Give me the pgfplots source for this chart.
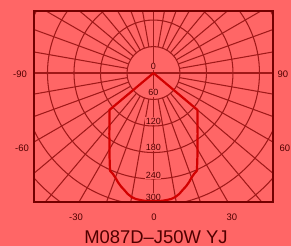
\documentclass[border=0pt]{standalone}
\usepackage{pgfplots}
\pgfplotsset{compat=1.18}
\usepackage{pgfplotstable}
\usepackage{fontspec}
\setmainfont{Liberation Sans}
\definecolor{bg}{RGB}{255,102,102}
\definecolor{gridc}{RGB}{160,25,25}
\definecolor{framec}{RGB}{115,0,0}
\definecolor{curvec}{RGB}{210,0,0}
\definecolor{txt}{RGB}{80,0,0}

\pgfplotstableread{
a r
-55 0
-50 130
-45 141
-40 155
-36 170
-32 188
-28 212
-24 242
-22 246
-20 252
-18 260
-16 267
-14 273
-12 280
-10 285
-8 288
-6 289
-4 290
-2 290
0 290
2 290
4 290
6 289
8 288
10 285
12 280
14 273
16 267
18 260
20 252
22 246
24 242
28 212
32 188
36 170
40 155
45 141
50 130
55 0
}\curvetable

\begin{document}
\begin{tikzpicture}[x=1bp,y=1bp]
\fill[bg] (0,0) rectangle (291,246);
\useasboundingbox (0,0) rectangle (291,246);
\begin{axis}[
  at={(34bp,44bp)}, anchor=south west,
  x=0.4417bp, y=0.4417bp,
  xmin=-270.5, xmax=270.5, ymin=-292, ymax=140.4,
  axis line style={draw=framec, line width=2.8bp},
  xtick=\empty, ytick=\empty,
  clip=true, axis on top,
]
\pgfplotsinvokeforeach{1,...,8}{
  \draw[gridc, line width=1.05bp] (0,0) circle[radius=#1*26.5bp];
}
\pgfplotsinvokeforeach{0,10,...,350}{
  \draw[gridc, line width=1.05bp] (0,0) ++(#1:26.5bp) -- ++(#1:260bp);
}
\draw[gridc, line width=1.05bp] (-300,0) -- (300,0);
\draw[gridc, line width=1.05bp] (0,-300) -- (0,200);
\node[fill=bg, inner sep=0.5bp, text=txt, font=\fontsize{9}{10}\selectfont] at (0,15) {0};
\node[fill=bg, inner sep=0.5bp, text=txt, font=\fontsize{9}{10}\selectfont] at (0,-45) {60};
\node[fill=bg, inner sep=0.5bp, text=txt, font=\fontsize{9}{10}\selectfont] at (0,-109) {120};
\node[fill=bg, inner sep=0.5bp, text=txt, font=\fontsize{9}{10}\selectfont] at (0,-168) {180};
\node[fill=bg, inner sep=0.5bp, text=txt, font=\fontsize{9}{10}\selectfont] at (0,-231) {240};
\node[fill=bg, inner sep=0.5bp, text=txt, font=\fontsize{9}{10}\selectfont] at (0,-281) {300};
\addplot[curvec, line width=2.2bp, line join=round] table[x expr={\thisrow{r}*sin(\thisrow{a})}, y expr={-\thisrow{r}*cos(\thisrow{a})}] {\curvetable};
\end{axis}
\begin{scope}[every node/.style={text=txt, font=\fontsize{9.5}{10}\selectfont}]
\node at (20,172) {-90};
\node at (283,172) {90};
\node at (22,98) {-60};
\node at (285,98) {60};
\node at (76,29) {-30};
\node at (154,29) {0};
\node at (232,29) {30};
\end{scope}
\node[anchor=base, text=txt, font=\fontsize{18.5}{20}\selectfont, inner sep=0pt] at (156,3) {M087D–J50W YJ};
\end{tikzpicture}
\end{document}
